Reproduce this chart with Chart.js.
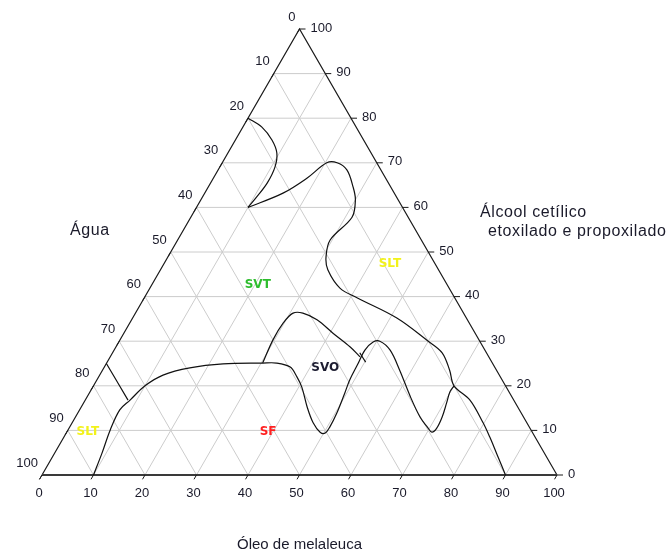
<!DOCTYPE html>
<html>
<head>
<meta charset="utf-8">
<script src="https://cdn.jsdelivr.net/npm/chart.js@4"></script>
<style>
  body { margin: 0; background: #fff; }
  canvas { display: block; }
</style>
</head>
<body>
<canvas id="ternary" width="670" height="558"></canvas>
<script>
// Compositions as [óleo de melaleuca %, álcool cetílico %]; água = 100 - both
const curveTopLeft = [[0, 80], [3.7, 78], [7.1, 75.1], [9.5, 72.2], [10.7, 69.1], [11, 65.5], [10.5, 62.3], [10, 60]];
const curveSvtSlt = [[10, 60], [15.2, 63.2], [18.2, 66.6], [20.3, 70], [22.3, 70], [25, 68.4], [28.1, 64.6], [30, 61.7],
  [31.3, 57.8], [29.6, 52.7], [30.7, 48.9], [32.5, 46], [36.9, 41.9], [41.4, 39.7], [51.3, 35.2], [60, 30],
  [64, 27.4], [67.4, 23.5], [70, 20], [74.7, 16.8], [79.8, 11.7], [82.7, 8.5], [85.8, 4.9], [90, 0]];
const curveSf = [[10, 0], [9.2, 4.9], [8.2, 10.1], [7.8, 14.6], [8.7, 16.8], [10, 20], [12.3, 22.4], [16.7, 24], [22.7, 24.9],
  [30.3, 25.1], [33, 25.1], [36.1, 24.2], [38.5, 22], [40.6, 19.7], [43.9, 15.2], [46.8, 11.7], [49.2, 9.6], [50.3, 9.4],
  [50.5, 10.8], [50.3, 13.9], [49.6, 18.4], [49.1, 21.3], [48.9, 24.7], [48.7, 28], [49.4, 29.8], [50.6, 30],
  [53.6, 28], [57.7, 23.5], [62.8, 17.5], [66.9, 13], [69.4, 10.8], [70.9, 9.6], [71.4, 10.5], [71.2, 13],
  [70.5, 16.1], [69.9, 18.6], [70, 20]];
const curveSvo = [[30.3, 25.1], [29.7, 30.3], [29.8, 34.1], [30.6, 36.3], [32.5, 36.3], [36, 34.8], [40.6, 31.8], [45.5, 28.7], [48.5, 26.5]];
const curveSvoEnd = [[48, 27.4], [50.2, 25.3]];
const curveSlt = [[0, 25], [8.3, 16.8]];

const regionNames = ['SVT', 'SLT', 'SVO', 'SF', 'SLT'];
const regionPos = [[20.6, 42.6], [43.9, 47.3], [43, 24], [39.1, 9.6], [4.1, 9.6]];
const regionColors = ['#2ebd2e', '#f2f21a', '#1c1c30', '#ff2020', '#f2f21a'];

const tickValues = [0, 10, 20, 30, 40, 50, 60, 70, 80, 90, 100];
const axisTitles = ['Óleo de melaleuca', 'Água', 'Álcool cetílico', ' etoxilado e propoxilado'];

const H = Math.sqrt(3) / 2;
function toXY(p) { return { x: p[0] + p[1] / 2, y: p[1] * H }; }

function curve(points) {
  return {
    data: points.map(toXY),
    showLine: true,
    borderColor: '#111',
    borderWidth: 1.2,
    pointRadius: 0,
    tension: 0.35,
    fill: false
  };
}

const ternaryFrame = {
  id: 'ternaryFrame',
  beforeDatasetsDraw(chart) {
    const ctx = chart.ctx, xs = chart.scales.x, ys = chart.scales.y;
    const px = (o, c) => [xs.getPixelForValue(o + c / 2), ys.getPixelForValue(c * H)];
    ctx.save();
    // grid
    ctx.strokeStyle = '#cccccc';
    ctx.lineWidth = 1;
    for (let v = 10; v < 100; v += 10) {
      const segs = [[[0, v], [100 - v, v]], [[v, 0], [v, 100 - v]], [[v, 0], [0, v]]];
      segs.forEach(s => {
        const a = px(s[0][0], s[0][1]), b = px(s[1][0], s[1][1]);
        ctx.beginPath(); ctx.moveTo(a[0], a[1]); ctx.lineTo(b[0], b[1]); ctx.stroke();
      });
    }
    // triangle
    const L = px(0, 0), R = px(100, 0), T = px(0, 100);
    ctx.strokeStyle = '#1a1a1a';
    ctx.lineWidth = 1.2;
    ctx.beginPath(); ctx.moveTo(L[0], L[1]); ctx.lineTo(T[0], T[1]); ctx.lineTo(R[0], R[1]); ctx.stroke();
    ctx.strokeStyle = '#3a3a3a';
    ctx.lineWidth = 2;
    ctx.beginPath(); ctx.moveTo(L[0], L[1]); ctx.lineTo(R[0], R[1]); ctx.stroke();
    // ticks + labels
    ctx.lineWidth = 1;
    ctx.strokeStyle = '#1a1a1a';
    ctx.fillStyle = '#1a1a2a';
    ctx.font = '13px "Liberation Sans", Arial, sans-serif';
    ctx.textBaseline = 'middle';
    tickValues.forEach(v => {
      const b = px(v, 0);
      ctx.beginPath(); ctx.moveTo(b[0], b[1]); ctx.lineTo(b[0] - 2.5, b[1] + 4.3); ctx.stroke();
      ctx.textAlign = 'center';
      ctx.fillText(String(v), b[0] - 3, b[1] + 18);
      const l = px(0, 100 - v);
      ctx.beginPath(); ctx.moveTo(l[0], l[1]); ctx.lineTo(l[0] - 2.5, l[1] + 4.3); ctx.stroke();
      ctx.textAlign = 'right';
      ctx.fillText(String(v), l[0] - 4, l[1] - 12);
      const r = px(100 - v, v);
      ctx.beginPath(); ctx.moveTo(r[0], r[1]); ctx.lineTo(r[0] + 6, r[1]); ctx.stroke();
      ctx.textAlign = 'left';
      ctx.fillText(String(v), r[0] + 11, r[1] - 1);
    });
    // axis titles
    ctx.font = '15px "Liberation Sans", Arial, sans-serif';
    ctx.textAlign = 'center';
    ctx.fillText(axisTitles[0], (L[0] + R[0]) / 2, 545);
    ctx.font = '16px "Liberation Sans", Arial, sans-serif';
    ctx.letterSpacing = '0.6px';
    ctx.textAlign = 'left';
    ctx.fillText(axisTitles[1], 70, 231);
    ctx.fillText(axisTitles[2], 480, 213);
    ctx.fillText(axisTitles[3], 483, 232);
    ctx.letterSpacing = '0px';
    // region labels
    ctx.font = 'bold 12px "DejaVu Sans", Verdana, sans-serif';
    ctx.textAlign = 'center';
    regionNames.forEach((n, i) => {
      const p = px(regionPos[i][0], regionPos[i][1]);
      ctx.fillStyle = regionColors[i];
      ctx.fillText(n, p[0], p[1]);
    });
    ctx.restore();
  }
};

new Chart(document.getElementById('ternary'), {
  type: 'scatter',
  data: {
    datasets: [curve(curveTopLeft), curve(curveSvtSlt), curve(curveSf), curve(curveSvo), curve(curveSvoEnd), curve(curveSlt)]
  },
  options: {
    responsive: false,
    animation: false,
    layout: { padding: { left: 42, right: 113, top: 29, bottom: 83 } },
    scales: {
      x: { type: 'linear', min: 0, max: 100, display: false },
      y: { type: 'linear', min: 0, max: 100 * H, display: false }
    },
    plugins: { legend: { display: false }, tooltip: { enabled: false } }
  },
  plugins: [ternaryFrame]
});
</script>
</body>
</html>
